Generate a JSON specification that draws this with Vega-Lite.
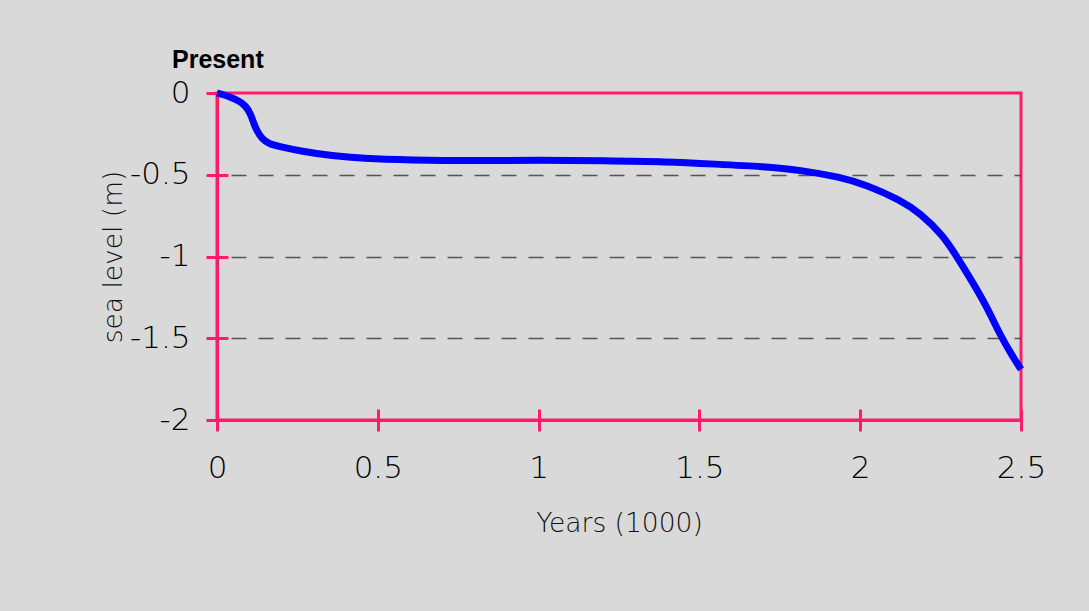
{
  "$schema": "https://vega.github.io/schema/vega-lite/v6.json",
  "autosize": {"type": "none"},
  "width": 804,
  "height": 327,
  "padding": {"left": 217, "top": 93, "right": 68, "bottom": 191},
  "background": "#d9d9d9",
  "title": {
    "text": "Present",
    "anchor": "start",
    "frame": "group",
    "dx": -45,
    "offset": 4,
    "font": "Liberation Sans",
    "fontSize": 25,
    "fontWeight": "bold",
    "color": "#000000"
  },
  "config": {
    "view": {"stroke": "#ff1a6c", "strokeWidth": 3},
    "axis": {
      "labelFont": "DejaVu Sans",
      "labelFontWeight": 200,
      "labelFontSize": 31,
      "labelColor": "#000000",
      "labelFlush": false,
      "labelOverlap": false,
      "titleFont": "DejaVu Sans",
      "titleFontWeight": 200,
      "titleFontSize": 26.5,
      "titleColor": "#111111",
      "tickColor": "#ff1a6c",
      "tickWidth": 3,
      "tickSize": 11,
      "domainColor": "#ff1a6c",
      "domainWidth": 3
    }
  },
  "data": {
    "values": [
      {"t": 0, "sl": 0},
      {"t": 0.02, "sl": -0.01},
      {"t": 0.04, "sl": -0.025},
      {"t": 0.07, "sl": -0.05},
      {"t": 0.09, "sl": -0.08},
      {"t": 0.105, "sl": -0.13},
      {"t": 0.115, "sl": -0.19},
      {"t": 0.125, "sl": -0.235},
      {"t": 0.14, "sl": -0.28},
      {"t": 0.16, "sl": -0.31},
      {"t": 0.2, "sl": -0.33},
      {"t": 0.26, "sl": -0.355},
      {"t": 0.36, "sl": -0.385},
      {"t": 0.45, "sl": -0.4},
      {"t": 0.6, "sl": -0.41},
      {"t": 0.8, "sl": -0.415},
      {"t": 1.0, "sl": -0.41},
      {"t": 1.2, "sl": -0.415},
      {"t": 1.4, "sl": -0.42},
      {"t": 1.55, "sl": -0.435},
      {"t": 1.7, "sl": -0.45},
      {"t": 1.813, "sl": -0.471},
      {"t": 1.937, "sl": -0.514},
      {"t": 2.021, "sl": -0.563},
      {"t": 2.124, "sl": -0.654},
      {"t": 2.186, "sl": -0.734},
      {"t": 2.257, "sl": -0.869},
      {"t": 2.301, "sl": -1.003},
      {"t": 2.351, "sl": -1.162},
      {"t": 2.394, "sl": -1.309},
      {"t": 2.435, "sl": -1.48},
      {"t": 2.475, "sl": -1.615},
      {"t": 2.5, "sl": -1.69}
    ]
  },
  "resolve": {"axis": {"x": "independent", "y": "independent"}},
  "layer": [
    {
      "mark": {"type": "line", "strokeOpacity": 0},
      "encoding": {
        "x": {
          "field": "t", "type": "quantitative",
          "scale": {"domain": [0, 2.5], "nice": false, "zero": false},
          "axis": {"orient": "top", "offset": -327, "values": [0, 0.5, 1, 1.5, 2, 2.5], "labels": false, "title": null, "domain": false, "grid": false}
        },
        "y": {
          "field": "sl", "type": "quantitative",
          "scale": {"domain": [-2, 0], "nice": false, "zero": false},
          "axis": {"orient": "right", "offset": -804, "values": [0, -0.5, -1, -1.5, -2], "labels": false, "title": null, "domain": false, "grid": false}
        }
      }
    },
    {
      "mark": {"type": "line", "color": "#0000ff", "strokeWidth": 7, "interpolate": "basis"},
      "encoding": {
        "x": {
          "field": "t", "type": "quantitative",
          "scale": {"domain": [0, 2.5], "nice": false, "zero": false},
          "axis": {
            "orient": "bottom",
            "values": [0, 0.5, 1, 1.5, 2, 2.5],
            "labelExpr": "'' + datum.value",
            "labelPadding": 22,
            "title": "Years (1000)",
            "titlePadding": 27,
            "grid": false
          }
        },
        "y": {
          "field": "sl", "type": "quantitative",
          "scale": {"domain": [-2, 0], "nice": false, "zero": false},
          "axis": {
            "orient": "left",
            "values": [0, -0.5, -1, -1.5, -2],
            "labelExpr": "'' + datum.value",
            "labelPadding": 16,
            "title": "sea level (m)",
            "titlePadding": 2,
            "grid": true,
            "gridColor": "#555555",
            "gridWidth": 1.5,
            "gridDash": [15, 12],
            "gridDashOffset": -14,
            "gridOpacity": {"condition": {"test": "datum.value === 0 || datum.value === -2", "value": 0}, "value": 1}
          }
        }
      }
    }
  ]
}
